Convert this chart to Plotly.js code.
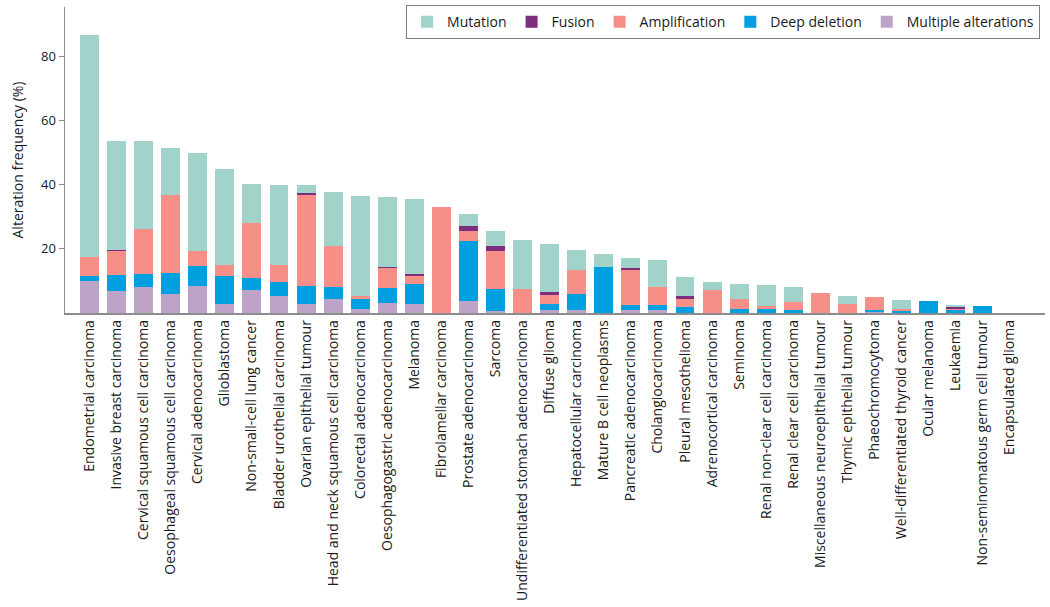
<!DOCTYPE html>
<html>
<head>
<meta charset="utf-8">
<script src="https://cdn.plot.ly/plotly-3.0.1.min.js"></script>
<style>html,body{margin:0;padding:0;background:#fff;}#chart{width:1050px;height:607px;}</style>
</head>
<body>
<div id="chart"></div>
<script>
const categories = [
  "Endometrial carcinoma", "Invasive breast carcinoma", "Cervical squamous cell carcinoma",
  "Oesophageal squamous cell carcinoma", "Cervical adenocarcinoma", "Glioblastoma",
  "Non-small-cell lung cancer", "Bladder urothelial carcinoma", "Ovarian epithelial tumour",
  "Head and neck squamous cell carcinoma", "Colorectal adenocarcinoma", "Oesophagogastric adenocarcinoma",
  "Melanoma", "Fibrolamellar carcinoma", "Prostate adenocarcinoma", "Sarcoma",
  "Undifferentiated stomach adenocarcinoma", "Diffuse glioma", "Hepatocellular carcinoma",
  "Mature B cell neoplasms", "Pancreatic adenocarcinoma", "Cholangiocarcinoma",
  "Pleural mesothelioma", "Adrenocortical carcinoma", "Seminoma", "Renal non-clear cell carcinoma",
  "Renal clear cell carcinoma", "Miscellaneous neuroepithelial tumour", "Thymic epithelial tumour",
  "Phaeochromocytoma", "Well-differentiated thyroid cancer", "Ocular melanoma", "Leukaemia",
  "Non-seminomatous germ cell tumour", "Encapsulated glioma"
];
// segment heights (% of cases), bottom to top: multiple, deep deletion, amplification, fusion, mutation
const multiple = [9.9, 6.9, 8.2, 6.0, 8.4, 2.8, 7.1, 5.2, 2.7, 4.5, 1.2, 3.1, 2.8, 0, 3.6, 0.6, 0, 1.0, 1.0, 0, 0.9, 0.9, 0, 0, 0, 0, 0, 0, 0, 0.4, 0, 0, 0, 0, 0];
const deepDeletion = [1.7, 5.0, 4.0, 6.4, 6.4, 8.6, 3.9, 4.4, 5.8, 3.7, 3.1, 4.6, 6.1, 0, 18.8, 7.0, 0, 1.7, 5.0, 14.3, 1.5, 1.5, 1.9, 0, 1.2, 1.4, 0.9, 0, 0, 0.5, 0.6, 3.6, 0.8, 2.1, 0];
const amplification = [5.8, 7.6, 14.1, 24.3, 4.5, 3.7, 17.2, 5.5, 28.3, 12.8, 1.0, 6.4, 2.7, 33.2, 3.2, 11.8, 7.5, 3.0, 7.4, 0, 11.0, 5.7, 2.4, 7.3, 3.3, 0.8, 2.5, 6.1, 2.8, 4.1, 0.5, 0, 0.3, 0, 0];
const fusion = [0, 0.3, 0, 0, 0, 0, 0, 0, 0.8, 0, 0, 0.3, 0.5, 0, 1.4, 1.4, 0, 0.7, 0, 0, 0.6, 0, 1.1, 0, 0, 0, 0, 0, 0, 0, 0, 0, 0.7, 0, 0];
const mutation = [69.5, 33.8, 27.3, 14.8, 30.6, 29.7, 12.0, 24.8, 2.2, 16.8, 31.3, 21.8, 23.4, 0, 4.0, 4.8, 15.4, 15.2, 6.4, 4.2, 3.2, 8.3, 5.8, 2.3, 4.7, 6.5, 4.6, 0, 2.6, 0, 3.1, 0, 0.6, 0, 0];
const yTicks = [20, 40, 60, 80];

const series = [
  {name: "Multiple alterations", y: multiple, color: "#bca3c7"},
  {name: "Deep deletion", y: deepDeletion, color: "#009fdf"},
  {name: "Amplification", y: amplification, color: "#f58f88"},
  {name: "Fusion", y: fusion, color: "#7d2e7d"},
  {name: "Mutation", y: mutation, color: "#a1d3ca"}
];

const traces = series.map(s => ({
  type: "bar",
  name: s.name,
  x: categories,
  y: s.y,
  marker: {color: s.color, line: {width: 0}},
  hoverinfo: "x+y+name"
}));

const font = "'Open Sans', 'DejaVu Sans', sans-serif";
const layout = {
  width: 1050, height: 607,
  barmode: "stack",
  bargap: 0.3,
  margin: {l: 65, r: 5, t: 7, b: 294, pad: 0},
  paper_bgcolor: "#ffffff", plot_bgcolor: "#ffffff",
  font: {family: font, size: 13, color: "#1a1a1a"},
  showlegend: true,
  legend: {
    orientation: "h", traceorder: "reversed",
    x: 0.995, xanchor: "right", y: 1.006, yanchor: "top",
    bordercolor: "#7f7f7f", borderwidth: 1, bgcolor: "#ffffff",
    font: {family: font, size: 14, color: "#1a1a1a"}
  },
  xaxis: {
    type: "category",
    range: [-0.905, 35.3],
    tickangle: -90,
    showline: true, linecolor: "#8c8c8c", linewidth: 1.5,
    ticks: "", showgrid: false, zeroline: false,
    tickfont: {family: font, size: 14, color: "#1a1a1a"}
  },
  yaxis: {
    range: [0, 95.5],
    tickvals: yTicks,
    ticks: "outside", ticklen: 5, tickcolor: "#8c8c8c",
    showline: true, linecolor: "#8c8c8c", linewidth: 1.5,
    showgrid: false, zeroline: false,
    tickfont: {family: font, size: 13, color: "#1a1a1a"},
    title: {text: "Alteration frequency (%)", font: {family: font, size: 14, color: "#1a1a1a"}, standoff: 14}
  }
};

Plotly.newPlot("chart", traces, layout, {displayModeBar: false, staticPlot: true});
</script>
</body>
</html>
